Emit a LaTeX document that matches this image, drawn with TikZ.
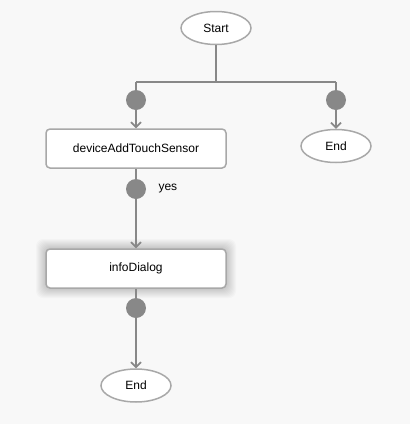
\documentclass[tikz,border=0pt]{standalone}
\usepackage{fontspec}
\setmainfont{Liberation Sans}
\usetikzlibrary{arrows.meta,shapes.geometric}
\definecolor{bg}{HTML}{F8F8F8}
\definecolor{ln}{HTML}{888888}
\definecolor{bd}{HTML}{A8A8A8}
\begin{document}
\begin{tikzpicture}[x=1pt,y=-1pt,
  every node/.style={font=\fontsize{12}{14}\selectfont},
  term/.style={ellipse,draw=bd,line width=1.5pt,fill=white,minimum width=70pt,minimum height=33pt,inner sep=0pt},
  procbox/.style={rectangle,rounded corners=4pt,draw=bd,line width=1.5pt,fill=white,minimum width=180pt,minimum height=39pt,inner sep=0pt},
  dot/.style={circle,fill=ln,minimum size=20pt,inner sep=0pt},
  conn/.style={draw=ln,line width=2pt},
  arr/.style={conn,-{Straight Barb[length=5pt,width=10pt,line width=1.6pt]}}
]
\fill[bg] (0,0) rectangle (410,424);
\useasboundingbox (0,0) rectangle (410,424);
\node[term] (start) at (216,28) {Start};
\node[dot] (dl) at (136,100) {};
\node[dot] (dr) at (336,100) {};
\node[procbox] (b1) at (136,148.5) {deviceAddTouchSensor};
\node[term] (endr) at (336,146) {End};
\node[dot] (dy) at (136,189) {};
\node[anchor=west] (yes) at (155,189) {yes};
% shadow for infoDialog
\foreach \i in {1,...,10}{
  \fill[black,opacity=0.02,rounded corners=7pt] (46-\i,249-\i) rectangle (226+\i,288+\i);
}
\node[procbox] (b2) at (136,268.5) {infoDialog};
\node[dot] (d3) at (136,308) {};
\node[term] (endb) at (136,385.5) {End};
\coordinate (jm) at (216,82);
\coordinate (jl) at (136,82);
\coordinate (jr) at (336,82);
\draw[conn] (start.south) -- (jm);
\draw[conn] (jl) -- (jr);
\draw[conn] (jl) -- (dl);
\draw[conn] (jr) -- (dr);
\draw[arr] (dl) -- (b1.north);
\draw[arr] (dr) -- (endr.north);
\draw[conn] (b1.south) -- (dy);
\draw[arr] (dy) -- (b2.north);
\draw[conn] (b2.south) -- (d3);
\draw[arr] (d3) -- (endb.north);
\end{tikzpicture}
\end{document}
